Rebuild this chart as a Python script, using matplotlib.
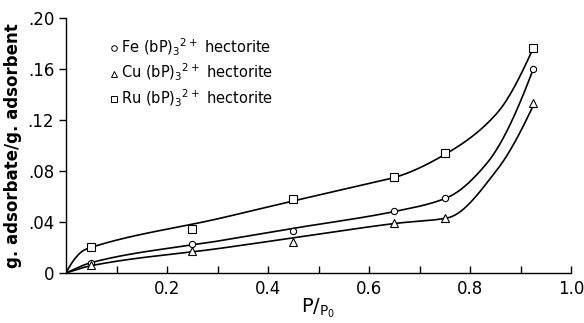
import numpy as np
import matplotlib
matplotlib.use("Agg")
import matplotlib.pyplot as plt
from matplotlib.lines import Line2D

plt.rcParams['font.family'] = ['Liberation Sans Narrow', 'DejaVu Sans']

# data
x_pts = [0.05, 0.25, 0.45, 0.65, 0.75, 0.925]
fe_pts = [0.008, 0.0225, 0.033, 0.0486, 0.059, 0.160]
cu_pts = [0.006, 0.0172, 0.0245, 0.039, 0.0430, 0.1330]
ru_pts = [0.020, 0.0345, 0.058, 0.0755, 0.094, 0.1765]

# smooth curve knots (as drawn in the figure)
ru_cx = [0, 0.021, 0.034, 0.05, 0.305, 0.45, 0.602, 0.655, 0.754, 0.853, 0.925]
ru_cy = [0, 0.0128, 0.0175, 0.0201, 0.0429, 0.0565, 0.0705, 0.0755, 0.0939, 0.1253, 0.1765]
fe_cx = [0, 0.05, 0.305, 0.45, 0.655, 0.754, 0.833, 0.925]
fe_cy = [0, 0.0081, 0.0253, 0.035, 0.0486, 0.059, 0.086, 0.160]
cu_cx = [0, 0.05, 0.305, 0.45, 0.655, 0.755, 0.853, 0.927]
cu_cy = [0, 0.0057, 0.0193, 0.0275, 0.039, 0.0432, 0.0808, 0.1331]

labels = [r'Fe (bP)$_3$$^{2+}$ hectorite',
          r'Cu (bP)$_3$$^{2+}$ hectorite',
          r'Ru (bP)$_3$$^{2+}$ hectorite']
markers = ['o', '^', 's']

y_ticks = [0, 0.04, 0.08, 0.12, 0.16, 0.20]
y_ticklabels = ['0', '.04', '.08', '.12', '.16', '.20']
x_ticks = [0.2, 0.4, 0.6, 0.8, 1.0]
x_ticklabels = ['0.2', '0.4', '0.6', '0.8', '1.0']


def pchip(x, y, xs):
    x = np.asarray(x, float); y = np.asarray(y, float)
    h = np.diff(x); d = np.diff(y) / h
    n = len(x)
    m = np.zeros(n)
    for k in range(1, n - 1):
        if d[k - 1] * d[k] > 0:
            w1 = 2 * h[k] + h[k - 1]; w2 = h[k] + 2 * h[k - 1]
            m[k] = (w1 + w2) / (w1 / d[k - 1] + w2 / d[k])
    m[0] = ((2 * h[0] + h[1]) * d[0] - h[0] * d[1]) / (h[0] + h[1])
    if np.sign(m[0]) != np.sign(d[0]):
        m[0] = 0
    m[-1] = ((2 * h[-1] + h[-2]) * d[-1] - h[-1] * d[-2]) / (h[-1] + h[-2])
    if np.sign(m[-1]) != np.sign(d[-1]):
        m[-1] = 0
    idx = np.clip(np.searchsorted(x, xs) - 1, 0, n - 2)
    t = (xs - x[idx]) / h[idx]
    h00 = 2 * t**3 - 3 * t**2 + 1; h10 = t**3 - 2 * t**2 + t
    h01 = -2 * t**3 + 3 * t**2; h11 = t**3 - t**2
    return (h00 * y[idx] + h10 * h[idx] * m[idx] + h01 * y[idx + 1]
            + h11 * h[idx] * m[idx + 1])


fig = plt.figure(figsize=(5.84, 3.23), dpi=100)
ax = fig.add_axes([0.113, 0.155, 0.865, 0.789])

for (cx, cy), pts, mk in zip([(fe_cx, fe_cy), (cu_cx, cu_cy), (ru_cx, ru_cy)],
                             [fe_pts, cu_pts, ru_pts], markers):
    xs = np.linspace(0, cx[-1], 500)
    ax.plot(xs, pchip(cx, cy, xs), color='black', lw=1.2)
    ms = 4.5 if mk == 'o' else 5.5
    ax.plot(x_pts, pts, linestyle='none', marker=mk, ms=ms, mfc='white',
            mec='black', mew=0.8)

handles = [Line2D([], [], linestyle='none', marker=mk,
                  ms=(4 if mk == 'o' else 4.5), mfc='white', mec='black',
                  mew=0.7) for mk in markers]
ax.legend(handles, labels, loc='upper left', bbox_to_anchor=(0.075, 0.955),
          frameon=False, handlelength=0.4, handletextpad=0.3,
          labelspacing=0.3, fontsize=10.5, borderpad=0)

ax.set_xlim(0, 1.0)
ax.set_ylim(0, 0.20)
ax.spines['top'].set_visible(False)
ax.spines['right'].set_visible(False)
for s in ['left', 'bottom']:
    ax.spines[s].set_linewidth(1.0)
ax.set_yticks(y_ticks)
ax.set_yticklabels(y_ticklabels, fontsize=12)
ax.set_xticks(np.arange(0.1, 1.01, 0.1))
ax.set_xticklabels(['' if abs(v * 10 % 2 - 1) < 0.01 else f'{v:.1f}'
                    for v in np.arange(0.1, 1.01, 0.1)], fontsize=12)
ax.tick_params(axis='x', direction='in', length=5, width=1, pad=5)
ax.tick_params(axis='y', direction='out', length=5, width=1)

ax.set_ylabel('g. adsorbate/g. adsorbent', fontsize=12, fontweight='bold',
              labelpad=4)
ax.set_xlabel(r'P/$\mathregular{_{P_0}}$', fontsize=14, labelpad=-1)

fig.savefig('out.png', dpi=100)
